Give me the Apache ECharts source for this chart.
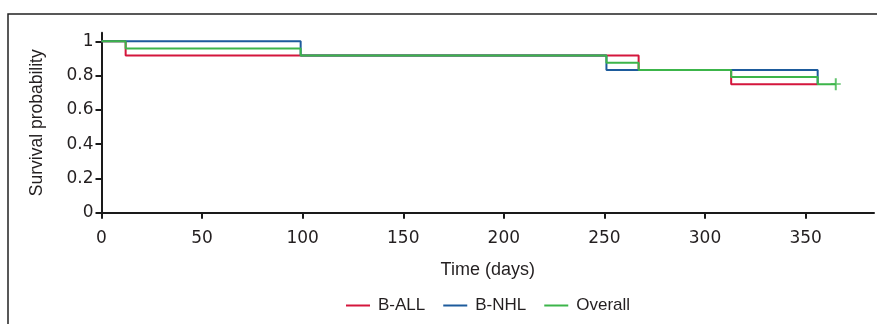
<!DOCTYPE html>
<html>
<head>
<meta charset="utf-8">
<script src="https://cdn.jsdelivr.net/npm/echarts@6/dist/echarts.min.js"></script>
<style>
html,body{margin:0;padding:0;background:#fff}
#main{width:877px;height:324px}
</style>
</head>
<body>
<div id="main"></div>
<script>
// survival curves (time in days)
let ballTime=[0,12,267,313,356]
let ballSurv=[1,0.917,0.833,0.75,0.75]
let bnhlTime=[0,99,251,356]
let bnhlSurv=[1,0.917,0.833,0.75]
let allTime=[0,12,99,251,267,313,356,365]
let allSurv=[1,0.958,0.917,0.875,0.833,0.792,0.75,0.75]
// censored observation (the + at the end)
let censorTime=[365]
let censorSurv=[0.75]

let xTicks=[0,50,100,150,200,250,300,350]
let yTicks=[0,0.2,0.4,0.6,0.8,1]
let names=['B-ALL','B-NHL','Overall']
let colors=['#d4163c','#1d5b9c','#3cb54a']

let axisColor='#1a1a1a'
let textColor='#231f20'
let sans="'Liberation Sans',Arial,sans-serif"

function pairs(t,s){
  let out=[]
  for(let i=0;i<t.length;i++){
    out.push([t[i],s[i]])
  }
  return out
}

function stepLine(name,t,s,color){
  return {
    name:name,
    type:'line',
    step:'end',
    data:pairs(t,s),
    symbol:'none',
    lineStyle:{color:color,width:2},
    itemStyle:{color:color}
  }
}

let chart=echarts.init(document.getElementById('main'),null,{renderer:'canvas'})

let option={
  animation:false,
  backgroundColor:'#fff',
  graphic:[{
    type:'rect',
    shape:{x:8,y:14,width:900,height:340},
    style:{fill:'none',stroke:'#222',lineWidth:1.5},
    z:-1
  }],
  grid:{left:101.5,right:3,top:32.7,bottom:111.3,containLabel:false},
  legend:{
    data:names,
    left:346,
    top:297,
    padding:0,
    icon:'rect',
    itemWidth:24,
    itemHeight:2,
    itemGap:18,
    textStyle:{color:textColor,fontSize:17,fontFamily:sans,padding:[0,0,0,3]}
  },
  xAxis:{
    type:'value',
    min:0,
    max:384,
    name:'Time (days)',
    nameLocation:'middle',
    nameGap:48,
    nameTextStyle:{color:textColor,fontSize:18,fontFamily:sans},
    axisLine:{show:true,lineStyle:{color:axisColor,width:2}},
    axisTick:{show:true,length:6,customValues:xTicks,lineStyle:{color:axisColor,width:2}},
    axisLabel:{customValues:xTicks,margin:17,color:textColor,fontSize:17,fontFamily:'DejaVu Sans, sans-serif'},
    splitLine:{show:false}
  },
  yAxis:{
    type:'value',
    min:0,
    max:1.05,
    name:'Survival probability',
    nameLocation:'middle',
    nameGap:55,
    nameTextStyle:{color:textColor,fontSize:17.5,fontFamily:sans},
    axisLine:{show:true,lineStyle:{color:axisColor,width:2}},
    axisTick:{show:true,length:6,customValues:yTicks,lineStyle:{color:axisColor,width:2}},
    axisLabel:{customValues:yTicks,margin:8,color:textColor,fontSize:17,fontFamily:'DejaVu Sans, sans-serif'},
    splitLine:{show:false}
  },
  series:[
    stepLine(names[0],ballTime,ballSurv,colors[0]),
    stepLine(names[1],bnhlTime,bnhlSurv,colors[1]),
    stepLine(names[2],allTime,allSurv,colors[2]),
    {
      name:'censored',
      type:'scatter',
      data:pairs(censorTime,censorSurv),
      symbol:'path://M4,0H6V5H10V6.5H6V12H4V6.5H0V5H4Z',
      symbolSize:[10,12],
      itemStyle:{color:colors[2]},
      silent:true,
      z:5
    }
  ]
}

chart.setOption(option)
</script>
</body>
</html>
